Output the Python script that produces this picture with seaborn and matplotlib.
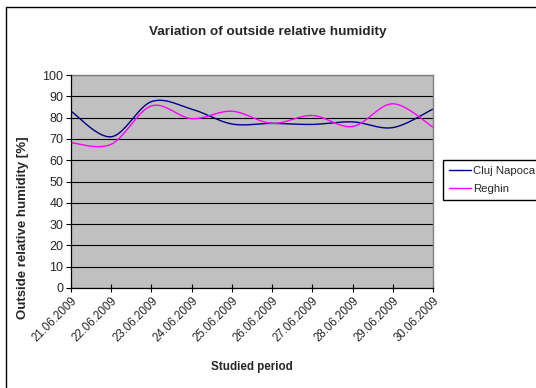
import numpy as np
import pandas as pd
import matplotlib
matplotlib.use("Agg")
import matplotlib.pyplot as plt
from matplotlib.patches import Rectangle
from matplotlib.lines import Line2D
import seaborn as sns

# Daily mean outside relative humidity, June 2009
dates = ["21.06.2009", "22.06.2009", "23.06.2009", "24.06.2009", "25.06.2009",
         "26.06.2009", "27.06.2009", "28.06.2009", "29.06.2009", "30.06.2009"]
cluj_napoca = [83.0, 71.0, 87.5, 84.0, 77.0, 77.3, 76.8, 78.0, 75.3, 84.0]
reghin = [68.2, 67.5, 85.5, 79.5, 83.0, 77.3, 81.0, 75.8, 86.5, 75.5]
y_ticks = list(range(0, 101, 10))

sns.set_style("white")
plt.rcParams["font.family"] = ["Liberation Sans", "DejaVu Sans"]


def smooth(values, steps=40):
    """Spreadsheet-style smoothed line: cubic Bezier segments with
    Catmull-Rom control points through every value."""
    p = np.column_stack([np.arange(len(values), dtype=float), values])
    ext = np.vstack([p[0], p, p[-1]])
    t = np.linspace(0, 1, steps)[:, None]
    out = []
    for i in range(len(p) - 1):
        p0, p1, p2, p3 = ext[i], ext[i + 1], ext[i + 2], ext[i + 3]
        c1 = p1 + (p2 - p0) / 6.0
        c2 = p2 - (p3 - p1) / 6.0
        seg = ((1 - t) ** 3) * p1 + 3 * ((1 - t) ** 2) * t * c1 \
            + 3 * (1 - t) * t ** 2 * c2 + t ** 3 * p2
        out.append(seg if i == 0 else seg[1:])
    return np.vstack(out)


frames = []
for name, vals in [("Cluj Napoca", cluj_napoca), ("Reghin", reghin)]:
    xy = smooth(vals)
    frames.append(pd.DataFrame({"x": xy[:, 0], "y": xy[:, 1], "station": name}))
df = pd.concat(frames, ignore_index=True)

W, H = 536, 388
fig = plt.figure(figsize=(W / 100, H / 100), dpi=100)
fig.patch.set_facecolor("white")

# outer chart frame (right and bottom edges run past the image)
fig.patches.append(Rectangle((6 / W, -0.2), 1.2, 0.2 + 1 - 7 / H,
                             transform=fig.transFigure, fill=False,
                             edgecolor="black", linewidth=1.0))

ax = fig.add_axes([71 / W, (H - 288) / H, (433 - 71) / W, (288 - 75) / H])
ax.set_facecolor("#C0C0C0")

palette = {"Cluj Napoca": "#000080", "Reghin": "#FF00FF"}
sns.lineplot(data=df, x="x", y="y", hue="station", estimator=None,
             sort=False, palette=palette, linewidth=1.0, legend=False, ax=ax)

ax.set_xlim(0, len(dates) - 1)
ax.set_ylim(0, 100)
ax.set_yticks(y_ticks)
ax.set_yticklabels([str(v) for v in y_ticks], fontsize=9)
ax.set_xticks(range(len(dates)))
ax.set_xticklabels(dates, fontsize=8.3, rotation=45, ha="right",
                   rotation_mode="anchor")
ax.tick_params(axis="x", direction="inout", length=6, width=0.8, pad=2,
               color="black", bottom=True)
ax.tick_params(axis="y", direction="out", length=3.5, width=0.8, pad=2,
               color="black", left=True)
ax.grid(axis="y", color="black", linewidth=0.8)
ax.set_axisbelow(True)

for side in ["left", "bottom"]:
    ax.spines[side].set_color("black")
    ax.spines[side].set_linewidth(0.9)
    ax.spines[side].set_zorder(5)
for side in ["top", "right"]:
    ax.spines[side].set_color("#808080")
    ax.spines[side].set_linewidth(1.0)

ax.set_xlabel("Studied period", fontsize=8.4, fontweight="bold", labelpad=12)
ax.set_ylabel("")
fig.text(23 / W, 1 - 228 / H, "Outside relative humidity [%]", rotation=90,
         ha="center", va="center", fontsize=9.5, fontweight="bold")

fig.text(0.5, 1 - 32 / H, "Variation of outside relative humidity",
         ha="center", va="center", fontsize=9.7, fontweight="bold")

handles = [Line2D([], [], color=palette[k], linewidth=1.0) for k in palette]
fig.legend(handles, list(palette), loc="upper left",
           bbox_to_anchor=(443 / W, 1 - 160 / H), fontsize=8.2, frameon=True,
           fancybox=False, edgecolor="black", framealpha=1,
           handlelength=2.0, handletextpad=0.15, borderpad=0.5,
           labelspacing=0.75, borderaxespad=0)

fig.savefig("out.png", dpi=100, facecolor="white")
